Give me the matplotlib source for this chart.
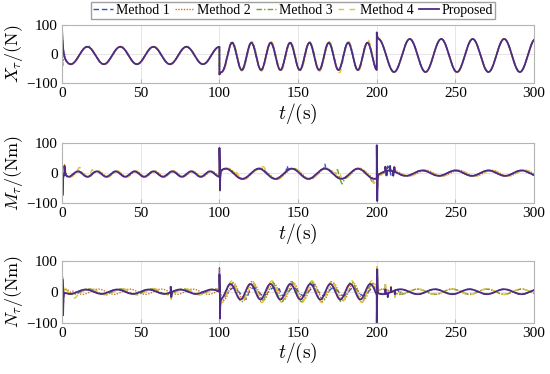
import numpy as np
import matplotlib.pyplot as plt

plt.rcParams['font.family'] = ['Liberation Serif', 'DejaVu Serif']
plt.rcParams['mathtext.fontset'] = 'cm'

t = np.arange(0, 300.001, 0.02)
edges = [0, 100, 200, 300]

names = ['Method 1', 'Method 2', 'Method 3', 'Method 4', 'Proposed']
colors = ['#3050c8', '#d9702a', '#6aa52a', '#e3c33a', '#4e2a84']
styles = [(0, (4, 2)), (0, (1, 1)), (0, (4, 1.5, 1, 1.5)), (0, (4, 4)), '-']

# proposed response, per 100 s segment: amplitude, period, offset, time of first peak
x_amp = [30, 47, 57]
x_per = [21, 12.3, 20]
x_off = [-5, -8, -5]
x_pk = [16, 108, 201]
m_amp = [9, 17, 9]
m_per = [12, 21, 21]
m_off = [-3, -2, 0]
m_pk = [10, 104, 229]
n_amp = [7, 25, 8]
n_per = [20, 12.7, 22]
n_off = [0, 0, 0]
n_pk = [15, 107, 215]

# methods 1-4 relative to proposed: amplitude scale and time shift per segment
x_scale = [[1.0, 1.0, 1.0], [1.0, 1.0, 1.0], [1.02, 1.03, 1.0], [1.05, 1.08, 1.02]]
x_shift = [[0, 0, 0], [0, 0, 0], [0, 0.2, 0], [0.3, 0.3, 0]]
m_scale = [[1.0, 1.0, 1.0], [1.05, 1.0, 1.1], [1.0, 1.1, 1.0], [1.15, 1.1, 1.1]]
m_shift = [[0, 0, 0], [1, 1, 2], [0.5, 0.5, 0], [1, 1, 2]]
n_scale = [[1.0, 0.5, 1.0], [1.2, 1.1, 1.1], [1.3, 1.3, 1.0], [1.5, 1.4, 1.1]]
n_shift = [[0, 2, 0], [8, 2, 11], [2, 0.8, 11], [3, 1, 11]]

# transients of the proposed curve: time, height, decay time, oscillation period
x_spk = [(0, 80, 0.6, 100), (100, -35, 1.0, 100), (200, 25, 0.4, 100)]
m_spk = [(0.2, -75, 0.3, 100), (1.5, 30, 0.4, 100), (100, 80, 0.2, 100),
         (100.3, -80, 0.2, 100), (200, 100, 0.15, 100), (200.3, -100, 0.15, 100),
         (205.5, 15, 0.1, 100), (206.2, -15, 0.1, 100), (208.5, 15, 0.1, 100),
         (210.5, -15, 0.1, 100), (211.2, 15, 0.1, 100)]
n_spk = [(0.2, 40, 0.2, 100), (0.6, -80, 0.2, 100), (69, 18, 0.2, 100),
         (69.4, -18, 0.2, 100), (100, 80, 0.2, 100), (100.3, -80, 0.2, 100),
         (200, -100, 0.15, 100), (200.3, 90, 0.15, 100), (205.5, 15, 0.1, 100),
         (207, -12, 0.1, 100), (209, 15, 0.1, 100), (211.5, -12, 0.1, 100)]

# extra bumps of methods 1-4: time, height, width
x_bump = [[], [], [(0.4, -70, 0.3), (17, 4, 1)], [(0.4, -70, 0.3), (177, -8, 1), (194, 8, 1)]]
m_bump = [[(143, 15, 0.3), (167, 15, 0.3), (207, 15, 0.3), (209, -15, 0.3)],
          [(20, 6, 1), (120, 5, 1)],
          [(175, 25, 0.7), (178, -15, 0.7), (197, -10, 1)],
          [(3, 10, 0.8), (11, 12, 1), (19, 20, 0.8), (111, 8, 1), (128, 8, 1),
           (176, 18, 1), (198, -15, 1)]]
n_bump = [[(117, -15, 1), (138, 12, 0.5), (160, 12, 0.5), (215, -10, 1)],
          [(5, -8, 1)],
          [(2, 10, 0.8), (196, -12, 1)],
          [(2, 15, 0.8), (8, -10, 1), (215, 10, 1)]]


def wave(amp, per, off, pk, scale=(1, 1, 1), shift=(0, 0, 0)):
    y = np.zeros_like(t)
    for i in range(3):
        m = (t >= edges[i]) & ((t < edges[i + 1]) | (i == 2))
        y[m] = off[i] + scale[i] * amp[i] * np.cos(2 * np.pi * (t[m] - pk[i] - shift[i]) / per[i])
    return y


def add_spikes(y, ev):
    for t0, h, tau, p in ev:
        dt = t - t0
        m = dt >= 0
        y[m] += h * np.exp(-dt[m] / tau) * np.cos(2 * np.pi * dt[m] / p)
    return y


def add_bumps(y, ev):
    for t0, h, w in ev:
        y += h * np.exp(-0.5 * ((t - t0) / w) ** 2)
    return y


panels = [
    (x_amp, x_per, x_off, x_pk, x_scale, x_shift, x_spk, x_bump, r'$X_\tau/(\mathrm{N})$'),
    (m_amp, m_per, m_off, m_pk, m_scale, m_shift, m_spk, m_bump, r'$M_\tau/(\mathrm{Nm})$'),
    (n_amp, n_per, n_off, n_pk, n_scale, n_shift, n_spk, n_bump, r'$N_\tau/(\mathrm{Nm})$'),
]
boxes = [[0.113, 0.778, 0.858, 0.155], [0.113, 0.457, 0.858, 0.160], [0.113, 0.137, 0.858, 0.166]]

fig = plt.figure(figsize=(5.5, 3.74), dpi=100)
handles = []
for k, (amp, per, off, pk, sc, sh, spk, bump, ylab) in enumerate(panels):
    ax = fig.add_axes(boxes[k])
    lines = []
    for j in range(4):
        y = wave(amp, per, off, pk, sc[j], sh[j])
        y = add_spikes(y, spk)
        y = add_bumps(y, bump[j])
        ln, = ax.plot(t, y, color=colors[j], linestyle=styles[j], lw=1.0)
        lines.append(ln)
    y = add_spikes(wave(amp, per, off, pk), spk)
    ln, = ax.plot(t, y, color=colors[4], linestyle='-', lw=1.3)
    lines.append(ln)
    handles = lines
    ax.set_xlim(0, 300)
    ax.set_ylim(-100, 100)
    ax.set_xticks([0, 50, 100, 150, 200, 250, 300])
    ax.set_yticks([-100, 0, 100])
    ax.grid(True, color='#e6e6e6', lw=0.7)
    ax.set_axisbelow(True)
    for s in ax.spines.values():
        s.set_color('#b4b4b4')
        s.set_linewidth(0.8)
    ax.tick_params(direction='in', length=3, color='#b4b4b4', labelsize=11, pad=3)
    ax.set_xlabel(r'$t/(\mathrm{s})$', fontsize=14, labelpad=1)
    ax.set_ylabel(ylab, fontsize=13, labelpad=1)

fig.legend(handles, names, loc='upper center', bbox_to_anchor=(0.533, 1.0), ncol=5,
           fontsize=10, frameon=True, fancybox=False, edgecolor='#a0a0a0', framealpha=1,
           handlelength=1.4, handletextpad=0.2, columnspacing=0.4, borderpad=0.15,
           borderaxespad=0.15)

fig.savefig('out.png', dpi=100)
